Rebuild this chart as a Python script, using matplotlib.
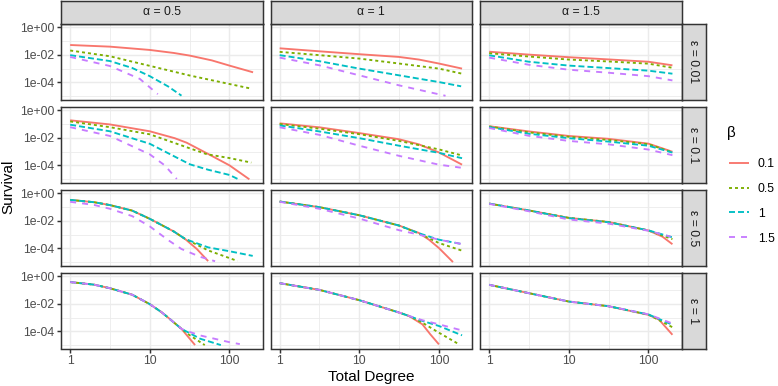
import matplotlib
matplotlib.use("Agg")
import matplotlib.pyplot as plt
import numpy as np

plt.rcParams["font.family"] = ["Liberation Sans", "DejaVu Sans"]

# facet labels
alphas = ["0.5", "1", "1.5"]
epsilons = ["0.01", "0.1", "0.5", "1"]
betas = ["0.1", "0.5", "1", "1.5"]

# each panel: beta -> (total degree, log10 survival)
p_a05_e001 = {
    "0.1": ([1, 3.16, 10, 20, 31.6, 60, 100, 198], [-1.28, -1.40, -1.64, -1.86, -2.05, -2.40, -2.78, -3.27]),
    "0.5": ([1, 3.16, 10, 31.6, 100, 188], [-1.68, -2.10, -2.80, -3.50, -4.12, -4.46]),
    "1": ([1, 3.16, 6, 10, 17, 25], [-2.02, -2.45, -2.95, -3.55, -4.30, -4.97]),
    "1.5": ([1, 3.16, 7.5, 12.6], [-2.15, -2.81, -3.75, -4.86]),
}
p_a05_e01 = {
    "0.1": ([1, 3.16, 10, 20.5, 29, 52, 100, 178], [-0.72, -1.02, -1.52, -2.02, -2.35, -3.12, -4.0, -5.02]),
    "0.5": ([1, 3.16, 10, 29, 52, 100, 188], [-0.80, -1.22, -1.74, -2.68, -3.19, -3.47, -3.80]),
    "1": ([1, 3.16, 10, 22, 32, 54, 100, 128], [-1.04, -1.52, -2.43, -3.45, -3.93, -4.32, -4.70, -5.0]),
    "1.5": ([1, 3.16, 10, 15.4, 21.8], [-1.22, -1.86, -3.2, -4.0, -4.99]),
}
p_a05_e05 = {
    "0.1": ([1, 2, 3.16, 6, 10, 20, 27.5, 39, 54], [-0.47, -0.64, -0.85, -1.25, -1.85, -2.77, -3.3, -4.05, -4.93]),
    "0.5": ([1, 2, 3.16, 6, 10, 20, 27.5, 31.6, 54, 126], [-0.47, -0.64, -0.85, -1.25, -1.85, -2.77, -3.3, -3.47, -4.15, -4.92]),
    "1": ([1, 2, 3.16, 6, 10, 20, 27.5, 31.6, 54, 100, 196], [-0.47, -0.64, -0.85, -1.25, -1.85, -2.77, -3.3, -3.44, -3.93, -4.21, -4.55]),
    "1.5": ([1, 2, 3.16, 6, 10, 17, 25, 43, 66], [-0.61, -0.84, -1.12, -1.65, -2.4, -3.4, -4.05, -4.62, -4.94]),
}
p_a05_e1 = {
    "0.1": ([1, 2, 3.16, 6, 10, 14, 17, 25, 37], [-0.41, -0.60, -0.86, -1.33, -2.02, -2.60, -3.0, -3.82, -5.0]),
    "0.5": ([1, 2, 3.16, 6, 10, 14, 17, 25, 32, 49], [-0.41, -0.60, -0.86, -1.33, -2.02, -2.60, -3.0, -3.82, -4.3, -5.0]),
    "1": ([1, 2, 3.16, 6, 10, 14, 17, 25, 32, 43, 78], [-0.41, -0.60, -0.86, -1.33, -2.02, -2.60, -3.0, -3.82, -4.15, -4.54, -5.0]),
    "1.5": ([1, 2, 3.16, 6, 10, 14, 17, 25, 32, 43, 100, 135], [-0.41, -0.60, -0.86, -1.33, -2.02, -2.60, -3.0, -3.82, -4.05, -4.3, -4.79, -4.93]),
}
p_a1_e001 = {
    "0.1": ([1, 3.16, 10, 31.6, 56, 100, 195], [-1.52, -1.74, -1.95, -2.15, -2.34, -2.63, -3.0]),
    "0.5": ([1, 3.16, 10, 31.6, 100, 195], [-1.78, -2.02, -2.27, -2.63, -3.0, -3.37]),
    "1": ([1, 3.16, 10, 31.6, 100, 190], [-2.02, -2.46, -3.0, -3.49, -3.98, -4.29]),
    "1.5": ([1, 3.16, 10, 31.6, 121], [-2.20, -2.76, -3.49, -4.22, -4.98]),
}
p_a15_e001 = {
    "0.1": ([1, 3.16, 10, 31.6, 100, 200], [-1.77, -1.98, -2.17, -2.33, -2.50, -2.76]),
    "0.5": ([1, 3.16, 10, 31.6, 100, 200], [-1.88, -2.12, -2.34, -2.48, -2.64, -2.94]),
    "1": ([1, 3.16, 10, 31.6, 100, 200], [-2.03, -2.50, -2.78, -2.96, -3.15, -3.37]),
    "1.5": ([1, 3.16, 10, 31.6, 100, 200], [-2.20, -2.72, -3.08, -3.30, -3.55, -3.86]),
}
p_a1_e01 = {
    "0.1": ([1, 3.16, 10, 31.6, 56, 100, 195], [-0.94, -1.23, -1.65, -2.10, -2.47, -3.06, -3.95]),
    "0.5": ([1, 3.16, 10, 31.6, 100, 195], [-0.99, -1.33, -1.73, -2.22, -2.84, -3.28]),
    "1": ([1, 3.16, 10, 31.6, 100, 195], [-1.09, -1.53, -2.02, -2.57, -3.09, -3.48]),
    "1.5": ([1, 3.16, 10, 31.6, 100, 188], [-1.23, -1.78, -2.57, -3.31, -3.95, -4.17]),
}
p_a15_e01 = {
    "0.1": ([1, 3.16, 10, 31.6, 100, 200], [-1.15, -1.53, -1.86, -2.07, -2.42, -3.01]),
    "0.5": ([1, 3.16, 10, 31.6, 100, 200], [-1.17, -1.60, -1.92, -2.15, -2.46, -3.05]),
    "1": ([1, 3.16, 10, 31.6, 100, 200], [-1.21, -1.70, -2.02, -2.27, -2.57, -3.07]),
    "1.5": ([1, 3.16, 10, 31.6, 100, 200], [-1.28, -1.85, -2.22, -2.47, -2.85, -3.26]),
}
p_a1_e05 = {
    "0.1": ([1, 3.16, 10, 31.6, 56, 75, 100, 150], [-0.59, -1.0, -1.59, -2.34, -2.88, -3.37, -3.98, -5.0]),
    "0.5": ([1, 3.16, 10, 31.6, 56, 100, 195], [-0.59, -1.0, -1.59, -2.34, -2.92, -3.61, -4.17]),
    "1": ([1, 3.16, 10, 31.6, 56, 100, 195], [-0.59, -1.0, -1.59, -2.34, -2.90, -3.37, -3.69]),
    "1.5": ([1, 3.16, 10, 31.6, 56, 100, 195], [-0.61, -1.12, -1.83, -2.68, -3.0, -3.37, -3.69]),
}
p_a15_e05 = {
    "0.1": ([1, 3.16, 10, 31.6, 100, 150, 200], [-0.74, -1.24, -1.78, -2.08, -2.70, -3.15, -3.70]),
    "0.5": ([1, 3.16, 10, 31.6, 100, 200], [-0.74, -1.24, -1.78, -2.08, -2.70, -3.33]),
    "1": ([1, 3.16, 10, 31.6, 100, 200], [-0.74, -1.24, -1.80, -2.10, -2.69, -3.20]),
    "1.5": ([1, 3.16, 10, 31.6, 100, 190], [-0.76, -1.30, -1.90, -2.20, -2.72, -3.15]),
}
p_a1_e1 = {
    "0.1": ([1, 3.16, 10, 31.6, 42, 62, 78, 100], [-0.49, -0.98, -1.73, -2.63, -2.88, -3.49, -4.22, -4.95]),
    "0.5": ([1, 3.16, 10, 31.6, 42, 62, 100, 182], [-0.49, -0.98, -1.73, -2.63, -2.88, -3.37, -4.10, -4.97]),
    "1": ([1, 3.16, 10, 31.6, 42, 62, 100, 195], [-0.49, -0.98, -1.73, -2.63, -2.88, -3.24, -3.61, -4.29]),
    "1.5": ([1, 3.16, 10, 31.6, 42, 62, 100, 200], [-0.49, -0.98, -1.73, -2.63, -2.88, -3.19, -3.49, -3.95]),
}
p_a15_e1 = {
    "0.1": ([1, 3.16, 10, 31.6, 100, 136, 200], [-0.61, -1.22, -1.83, -2.17, -2.80, -3.15, -4.25]),
    "0.5": ([1, 3.16, 10, 31.6, 100, 200], [-0.61, -1.22, -1.83, -2.17, -2.78, -3.70]),
    "1": ([1, 3.16, 10, 31.6, 100, 200], [-0.61, -1.22, -1.83, -2.17, -2.77, -3.52]),
    "1.5": ([1, 3.16, 10, 31.6, 100, 190], [-0.61, -1.22, -1.83, -2.17, -2.76, -3.38]),
}

# rows = epsilon, columns = alpha
panels = [
    [p_a05_e001, p_a1_e001, p_a15_e001],
    [p_a05_e01, p_a1_e01, p_a15_e01],
    [p_a05_e05, p_a1_e05, p_a15_e05],
    [p_a05_e1, p_a1_e1, p_a15_e1],
]

colors = ["#F8766D", "#7CAE00", "#00BFC4", "#C77CFF"]
dashes = [None, (1.6, 1.6), (3.2, 1.6), (3.2, 3.2)]
lw = 1.35

W, H = 778, 386
fig = plt.figure(figsize=(W / 100, H / 100), dpi=100)


def add_ax(x, y, w, h):
    return fig.add_axes([x / W, 1 - (y + h) / H, w / W, h / H])


def style_box(a):
    for s in a.spines.values():
        s.set_color("#333333")
        s.set_linewidth(1.07)


col_left = [61, 270.5, 480]
row_top = [24, 107, 190, 273]
pw, ph = 201.5, 75.5
strip = 24

handles = []
for r in range(4):
    for c in range(3):
        ax = add_ax(col_left[c], row_top[r], pw, ph)
        for i, b in enumerate(betas):
            x, ly = panels[r][c][b]
            line, = ax.plot(x, 10 ** np.array(ly), color=colors[i], lw=lw,
                            solid_capstyle="butt", dash_capstyle="butt",
                            solid_joinstyle="round")
            if dashes[i] is not None:
                line.set_dashes(dashes[i])
            if r == 0 and c == 0:
                handles.append(line)
        ax.set_xscale("log")
        ax.set_yscale("log")
        ax.set_xlim(10 ** -0.115, 10 ** 2.415)
        ax.set_ylim(10 ** -5.25, 10 ** 0.25)
        ax.set_xticks([1, 10, 100])
        ax.set_xticks([10 ** 0.5, 10 ** 1.5], minor=True)
        ax.set_yticks([1, 1e-2, 1e-4])
        ax.set_yticks([1e-1, 1e-3, 1e-5], minor=True)
        ax.set_xticklabels(["1", "10", "100"])
        ax.set_yticklabels(["1e+00", "1e-02", "1e-04"])
        ax.set_xticklabels([], minor=True)
        ax.set_yticklabels([], minor=True)
        ax.grid(True, which="major", color="#EBEBEB", lw=1.07)
        ax.grid(True, which="minor", color="#EBEBEB", lw=0.6)
        ax.set_axisbelow(True)
        style_box(ax)
        ax.tick_params(which="minor", length=0)
        ax.tick_params(which="major", length=2.75, width=1.07, color="#333333",
                       labelsize=8.8, labelcolor="#4D4D4D", pad=2.2)
        ax.tick_params(axis="y", left=(c == 0), labelleft=(c == 0))
        ax.tick_params(axis="x", bottom=(r == 3), labelbottom=(r == 3))

        # top strips
        if r == 0:
            sax = add_ax(col_left[c], 0.5, pw, strip - 0.5)
            sax.set_facecolor("#D9D9D9")
            sax.set_xticks([])
            sax.set_yticks([])
            style_box(sax)
            sax.text(0.5, 0.5, "\u03b1 = " + alphas[c], ha="center", va="center",
                     fontsize=8.8, color="#1A1A1A", transform=sax.transAxes)
        # right strips
        if c == 2:
            sax = add_ax(col_left[c] + pw, row_top[r], strip, ph)
            sax.set_facecolor("#D9D9D9")
            sax.set_xticks([])
            sax.set_yticks([])
            style_box(sax)
            sax.text(0.5, 0.5, "\u03b5 = " + epsilons[r], ha="center", va="center",
                     rotation=-90, fontsize=8.8, color="#1A1A1A", transform=sax.transAxes)

fig.text(8 / W, 1 - 186.5 / H, "Survival", rotation=90, ha="center", va="center", fontsize=11)
fig.text(371 / W, 1 - 376.5 / H, "Total Degree", ha="center", va="center", fontsize=11)

# legend
fig.text(727 / W, 1 - 133 / H, "\u03b2", ha="left", va="center", fontsize=11)
fig.legend(handles, betas, loc="upper left",
           bbox_to_anchor=(729 / W, 1 - 158 / H), frameon=False,
           fontsize=8.8, handlelength=1.6, handletextpad=0.75,
           labelspacing=1.05, borderpad=0, borderaxespad=0)

fig.savefig("out.png", dpi=100)
